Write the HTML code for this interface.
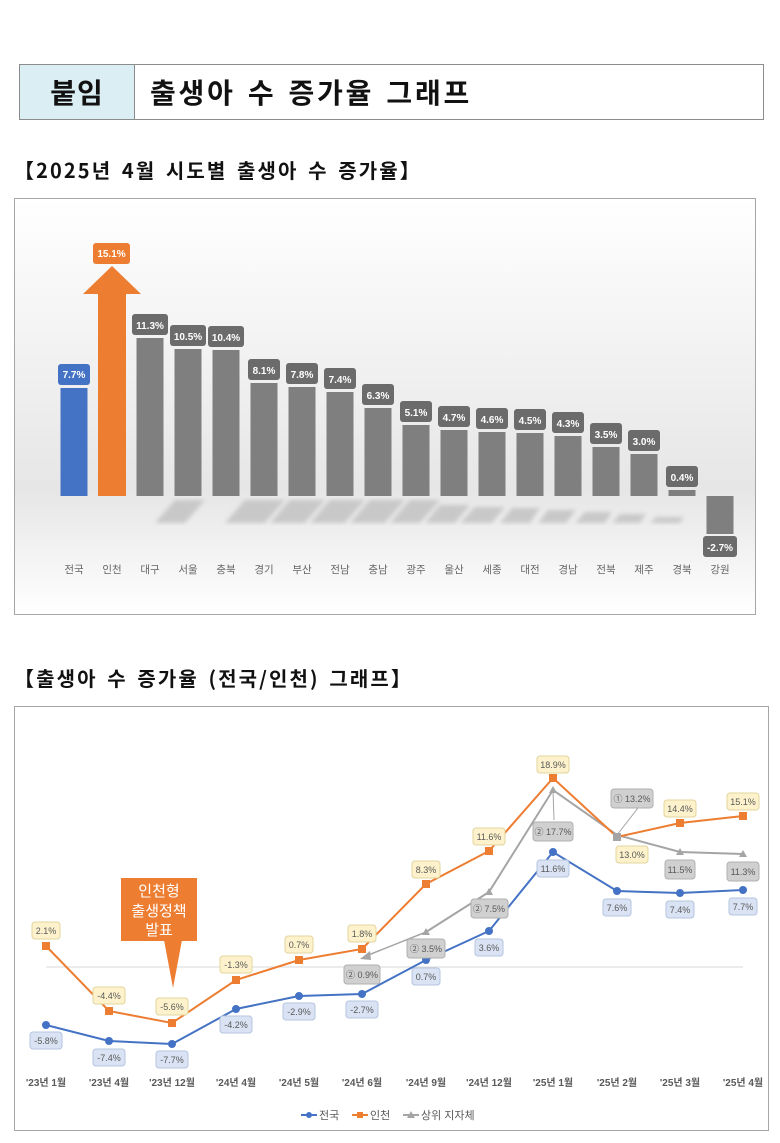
<!DOCTYPE html>
<html><head><meta charset="utf-8"><style>
body{margin:0;background:#fff;}
svg{display:block;font-family:"Liberation Sans","Noto Sans CJK KR",sans-serif;}
.hd{font-family:"Noto Sans CJK KR",sans-serif;font-weight:bold;}
.bl{font-size:10px;font-weight:bold;fill:#fff;text-anchor:middle;}
.cat{font-size:10.5px;fill:#666;text-anchor:middle;}
.xl{font-size:10px;font-weight:bold;fill:#595959;text-anchor:middle;}
.dl{font-size:9px;fill:#595959;text-anchor:middle;}
</style></head><body>
<svg width="780" height="1143" viewBox="0 0 780 1143" xmlns="http://www.w3.org/2000/svg">
<defs>
<linearGradient id="bg" x1="0" y1="0" x2="0" y2="1">
<stop offset="0" stop-color="#ffffff"/><stop offset="0.7" stop-color="#e6e6e6"/><stop offset="1" stop-color="#ffffff"/>
</linearGradient>
<filter id="blur"><feGaussianBlur stdDeviation="2"/></filter>
</defs>
<rect x="19.5" y="64.5" width="744" height="55" fill="#fff" stroke="#8c8c8c"/>
<rect x="20" y="65" width="114.5" height="54" fill="#daeef3"/>
<line x1="134.5" y1="64.5" x2="134.5" y2="119.5" stroke="#8c8c8c"/>
<text x="77" y="103" class="hd" font-size="28" text-anchor="middle" fill="#111" letter-spacing="1">붙임</text>
<text x="150" y="103" class="hd" font-size="28" fill="#111" letter-spacing="2.8" word-spacing="3">출생아 수 증가율 그래프</text>
<text x="14" y="178" class="hd" font-size="20" fill="#111" letter-spacing="2.1" word-spacing="3">【2025년 4월 시도별 출생아 수 증가율】</text>
<text x="14" y="686" class="hd" font-size="20" fill="#111" letter-spacing="2.1" word-spacing="3">【출생아 수 증가율 (전국/인천) 그래프】</text>

<rect x="14.5" y="198.5" width="741" height="416" fill="url(#bg)" stroke="#a6a6a6"/>
<g fill="#bdbdbd" opacity="0.75" filter="url(#blur)">
<polygon points="155,523 185,523 205,500 175,500"/>
<polygon points="225,523 265,523 285,500 245,500"/>
<polygon points="270,523 305,523 325,500 290,500"/>
<polygon points="310,523 345,523 365,500 330,500"/>
<polygon points="350,523 385,523 405,500 370,500"/>
<polygon points="390,523 420,523 440,500 410,500"/>
<polygon points="425,523 455,523 470,505 440,505"/>
<polygon points="460,523 492,523 505,507 475,507"/>
<polygon points="500,523 530,523 540,508 512,508"/>
<polygon points="538,523 566,523 576,510 548,510"/>
<polygon points="575,523 605,523 612,512 585,512"/>
<polygon points="612,523 640,523 646,514 620,514"/>
<polygon points="650,523 680,523 684,517 656,517"/>
</g>
<rect x="60.5" y="388" width="27" height="108" fill="#4472c4"/>
<polygon points="98,496 126,496 126,294 141,294 112,266 83,294 98,294" fill="#ed7d31"/>
<g fill="#7f7f7f">
<rect x="136.5" y="338" width="27" height="158"/>
<rect x="174.5" y="349" width="27" height="147"/>
<rect x="212.5" y="350" width="27" height="146"/>
<rect x="250.5" y="383" width="27" height="113"/>
<rect x="288.5" y="387" width="27" height="109"/>
<rect x="326.5" y="392" width="27" height="104"/>
<rect x="364.5" y="408" width="27" height="88"/>
<rect x="402.5" y="425" width="27" height="71"/>
<rect x="440.5" y="430" width="27" height="66"/>
<rect x="478.5" y="432" width="27" height="64"/>
<rect x="516.5" y="433" width="27" height="63"/>
<rect x="554.5" y="436" width="27" height="60"/>
<rect x="592.5" y="447" width="27" height="49"/>
<rect x="630.5" y="454" width="27" height="42"/>
<rect x="668.5" y="490" width="27" height="6"/>
<rect x="706.5" y="496" width="27" height="38"/>
</g>
<g>
<rect x="58" y="364" width="32" height="21" rx="3" fill="#4472c4"/><text x="74" y="378" class="bl">7.7%</text>
<rect x="93" y="243" width="37" height="21" rx="3" fill="#ed7d31"/><text x="111.5" y="257" class="bl">15.1%</text>
<g fill="#6b6b6b">
<rect x="132" y="314" width="36" height="21" rx="3"/><rect x="170" y="325" width="36" height="21" rx="3"/>
<rect x="208" y="326" width="36" height="21" rx="3"/><rect x="248" y="359" width="32" height="21" rx="3"/>
<rect x="286" y="363" width="32" height="21" rx="3"/><rect x="324" y="368" width="32" height="21" rx="3"/>
<rect x="362" y="384" width="32" height="21" rx="3"/><rect x="400" y="401" width="32" height="21" rx="3"/>
<rect x="438" y="406" width="32" height="21" rx="3"/><rect x="476" y="408" width="32" height="21" rx="3"/>
<rect x="514" y="409" width="32" height="21" rx="3"/><rect x="552" y="412" width="32" height="21" rx="3"/>
<rect x="590" y="423" width="32" height="21" rx="3"/><rect x="628" y="430" width="32" height="21" rx="3"/>
<rect x="666" y="466" width="32" height="21" rx="3"/><rect x="703" y="536" width="34" height="21" rx="3"/>
</g>
<text x="150" y="329" class="bl">11.3%</text><text x="188" y="340" class="bl">10.5%</text>
<text x="226" y="341" class="bl">10.4%</text><text x="264" y="374" class="bl">8.1%</text>
<text x="302" y="378" class="bl">7.8%</text><text x="340" y="383" class="bl">7.4%</text>
<text x="378" y="399" class="bl">6.3%</text><text x="416" y="416" class="bl">5.1%</text>
<text x="454" y="421" class="bl">4.7%</text><text x="492" y="423" class="bl">4.6%</text>
<text x="530" y="424" class="bl">4.5%</text><text x="568" y="427" class="bl">4.3%</text>
<text x="606" y="438" class="bl">3.5%</text><text x="644" y="445" class="bl">3.0%</text>
<text x="682" y="481" class="bl">0.4%</text><text x="720" y="551" class="bl">-2.7%</text>
</g>
<g>
<text x="74" y="573" class="cat">전국</text><text x="112" y="573" class="cat">인천</text>
<text x="150" y="573" class="cat">대구</text><text x="188" y="573" class="cat">서울</text>
<text x="226" y="573" class="cat">충북</text><text x="264" y="573" class="cat">경기</text>
<text x="302" y="573" class="cat">부산</text><text x="340" y="573" class="cat">전남</text>
<text x="378" y="573" class="cat">충남</text><text x="416" y="573" class="cat">광주</text>
<text x="454" y="573" class="cat">울산</text><text x="492" y="573" class="cat">세종</text>
<text x="530" y="573" class="cat">대전</text><text x="568" y="573" class="cat">경남</text>
<text x="606" y="573" class="cat">전북</text><text x="644" y="573" class="cat">제주</text>
<text x="682" y="573" class="cat">경북</text><text x="720" y="573" class="cat">강원</text>
</g>

<rect x="14.5" y="706.5" width="754" height="424" fill="#fff" stroke="#a6a6a6"/>
<line x1="46" y1="967" x2="743" y2="967" stroke="#d9d9d9"/>
<polyline points="426,932 489,892 553,790 617,835 680,852 743,854" fill="none" stroke="#a5a5a5" stroke-width="2"/>
<line x1="426" y1="932" x2="366" y2="956" stroke="#a5a5a5" stroke-width="1.5"/>
<polygon points="360,959 370,951 371,960" fill="#a5a5a5"/>
<g fill="#a5a5a5">
<polygon points="426,928 430,935 422,935"/><polygon points="489,888 493,895 485,895"/>
<polygon points="553,786 557,793 549,793"/><polygon points="680,848 684,855 676,855"/><polygon points="743,850 747,857 739,857"/>
</g>
<line x1="553" y1="790" x2="554" y2="820" stroke="#a5a5a5"/>
<line x1="617" y1="835" x2="638" y2="808" stroke="#a5a5a5"/>
<polyline points="46,946 109,1011 172,1023 236,980 299,960 362,949 426,884 489,851 553,778 617,837 680,823 743,816" fill="none" stroke="#ed7d31" stroke-width="2"/>
<g fill="#ed7d31">
<rect x="42" y="942" width="8" height="8"/><rect x="105" y="1007" width="8" height="8"/><rect x="168" y="1019" width="8" height="8"/>
<rect x="232" y="976" width="8" height="8"/><rect x="295" y="956" width="8" height="8"/><rect x="358" y="945" width="8" height="8"/>
<rect x="422" y="880" width="8" height="8"/><rect x="485" y="847" width="8" height="8"/><rect x="549" y="774" width="8" height="8"/>
<rect x="613" y="833" width="8" height="8" fill="#a5a5a5"/><rect x="676" y="819" width="8" height="8"/><rect x="739" y="812" width="8" height="8"/>
</g>
<polyline points="46,1025 109,1041 172,1044 236,1009 299,996 362,994 426,960 489,931 553,852 617,891 680,893 743,890" fill="none" stroke="#4472c4" stroke-width="2"/>
<g fill="#4472c4">
<circle cx="46" cy="1025" r="4"/><circle cx="109" cy="1041" r="4"/><circle cx="172" cy="1044" r="4"/>
<circle cx="236" cy="1009" r="4"/><circle cx="299" cy="996" r="4"/><circle cx="362" cy="994" r="4"/>
<circle cx="426" cy="960" r="4"/><circle cx="489" cy="931" r="4"/><circle cx="553" cy="852" r="4"/>
<circle cx="617" cy="891" r="4"/><circle cx="680" cy="893" r="4"/><circle cx="743" cy="890" r="4"/>
</g>
<rect x="121" y="878" width="76" height="63" fill="#ed7d31"/>
<polygon points="164,940 182,940 173,988" fill="#ed7d31"/>
<g font-family="Noto Sans CJK KR,sans-serif" font-size="15" fill="#fff" text-anchor="middle">
<text x="159" y="896">인천형</text><text x="159" y="916">출생정책</text><text x="159" y="935">발표</text>
</g>
<g fill="#fdf2cc" stroke="#e2d49c">
<rect x="32" y="922" width="28" height="17" rx="3"/><rect x="93" y="987" width="32" height="17" rx="3"/>
<rect x="156" y="998" width="32" height="17" rx="3"/><rect x="220" y="956" width="32" height="17" rx="3"/>
<rect x="285" y="936" width="28" height="17" rx="3"/><rect x="348" y="925" width="28" height="17" rx="3"/>
<rect x="412" y="861" width="28" height="17" rx="3"/><rect x="473" y="828" width="32" height="17" rx="3"/>
<rect x="537" y="756" width="32" height="17" rx="3"/><rect x="616" y="846" width="32" height="17" rx="3"/>
<rect x="664" y="800" width="32" height="17" rx="3"/><rect x="727" y="793" width="32" height="17" rx="3"/>
</g>
<g>
<text x="46" y="934" class="dl">2.1%</text><text x="109" y="999" class="dl">-4.4%</text><text x="172" y="1010" class="dl">-5.6%</text>
<text x="236" y="968" class="dl">-1.3%</text><text x="299" y="948" class="dl">0.7%</text><text x="362" y="937" class="dl">1.8%</text>
<text x="426" y="873" class="dl">8.3%</text><text x="489" y="840" class="dl">11.6%</text><text x="553" y="768" class="dl">18.9%</text>
<text x="632" y="858" class="dl">13.0%</text><text x="680" y="812" class="dl">14.4%</text><text x="743" y="805" class="dl">15.1%</text>
</g>
<g fill="#dae3f3" stroke="#b4c4e0">
<rect x="30" y="1032" width="32" height="17" rx="3"/><rect x="93" y="1049" width="32" height="17" rx="3"/>
<rect x="156" y="1051" width="32" height="17" rx="3"/><rect x="220" y="1016" width="32" height="17" rx="3"/>
<rect x="283" y="1003" width="32" height="17" rx="3"/><rect x="346" y="1001" width="32" height="17" rx="3"/>
<rect x="412" y="968" width="28" height="17" rx="3"/><rect x="475" y="939" width="28" height="17" rx="3"/>
<rect x="537" y="860" width="32" height="17" rx="3"/><rect x="603" y="899" width="28" height="17" rx="3"/>
<rect x="666" y="901" width="28" height="17" rx="3"/><rect x="729" y="898" width="28" height="17" rx="3"/>
</g>
<g>
<text x="46" y="1044" class="dl">-5.8%</text><text x="109" y="1061" class="dl">-7.4%</text><text x="172" y="1063" class="dl">-7.7%</text>
<text x="236" y="1028" class="dl">-4.2%</text><text x="299" y="1015" class="dl">-2.9%</text><text x="362" y="1013" class="dl">-2.7%</text>
<text x="426" y="980" class="dl">0.7%</text><text x="489" y="951" class="dl">3.6%</text><text x="553" y="872" class="dl">11.6%</text>
<text x="617" y="911" class="dl">7.6%</text><text x="680" y="913" class="dl">7.4%</text><text x="743" y="910" class="dl">7.7%</text>
</g>
<g fill="#d0d0d0" stroke="#b0b0b0">
<rect x="344" y="965" width="36" height="19" rx="3"/><rect x="407" y="939" width="38" height="19" rx="3"/>
<rect x="471" y="899" width="37" height="19" rx="3"/><rect x="533" y="822" width="40" height="19" rx="3"/>
<rect x="611" y="789" width="42" height="19" rx="3"/><rect x="665" y="860" width="30" height="19" rx="3"/>
<rect x="727" y="862" width="32" height="19" rx="3"/>
</g>
<g>
<text x="362" y="978" class="dl">② 0.9%</text><text x="426" y="952" class="dl">② 3.5%</text>
<text x="489" y="912" class="dl">② 7.5%</text><text x="553" y="835" class="dl">② 17.7%</text>
<text x="632" y="802" class="dl">① 13.2%</text><text x="680" y="873" class="dl">11.5%</text><text x="743" y="875" class="dl">11.3%</text>
</g>
<g>
<text x="46" y="1086" class="xl">'23년 1월</text><text x="109" y="1086" class="xl">'23년 4월</text><text x="172" y="1086" class="xl">'23년 12월</text>
<text x="236" y="1086" class="xl">'24년 4월</text><text x="299" y="1086" class="xl">'24년 5월</text><text x="362" y="1086" class="xl">'24년 6월</text>
<text x="426" y="1086" class="xl">'24년 9월</text><text x="489" y="1086" class="xl">'24년 12월</text><text x="553" y="1086" class="xl">'25년 1월</text>
<text x="617" y="1086" class="xl">'25년 2월</text><text x="680" y="1086" class="xl">'25년 3월</text><text x="743" y="1086" class="xl">'25년 4월</text>
</g>
<line x1="301" y1="1115" x2="317" y2="1115" stroke="#4472c4" stroke-width="2"/><circle cx="309" cy="1115" r="3" fill="#4472c4"/>
<text x="319" y="1119" font-size="11" fill="#595959">전국</text>
<line x1="352" y1="1115" x2="368" y2="1115" stroke="#ed7d31" stroke-width="2"/><rect x="357" y="1112" width="6" height="6" fill="#ed7d31"/>
<text x="370" y="1119" font-size="11" fill="#595959">인천</text>
<line x1="403" y1="1115" x2="419" y2="1115" stroke="#a5a5a5" stroke-width="2"/><polygon points="411,1111 415,1118 407,1118" fill="#a5a5a5"/>
<text x="421" y="1119" font-size="11" fill="#595959">상위 지자체</text>
</svg>
</body></html>
